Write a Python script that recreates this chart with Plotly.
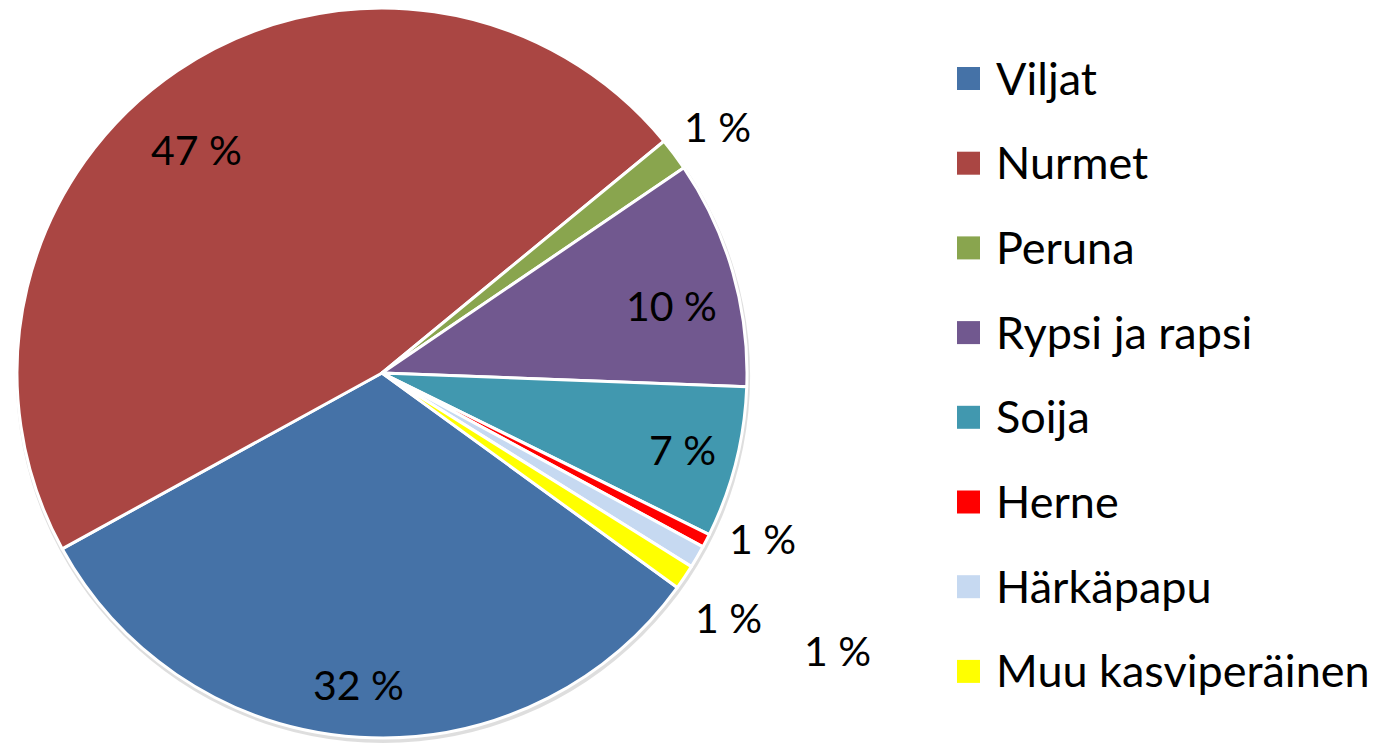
import math
import plotly.graph_objects as go

# ---- data ----
categories = ["Viljat", "Nurmet", "Peruna", "Rypsi ja rapsi", "Soija",
              "Herne", "Härkäpapu", "Muu kasviperäinen"]
shares = [32.0, 47.05, 1.45, 10.1, 6.7, 0.6, 1.0, 1.1]
colors = ["#4572A7", "#AA4643", "#89A54E", "#71588F", "#4198AF",
          "#FF0000", "#C6D9F1", "#FFFF00"]

# ---- label placement style (radius factor, angle nudge in degrees) ----
label_radius = [0.857, 0.796, 1.139, 0.814, 0.848, 1.136, 1.161, 1.460]
label_nudge = [0.8, -5.5, 0.5, 2.8, 0.0, -3.8, 5.0, -2.7]

W, H = 1381, 745
CX, CY, R = 382, 373, 365
ROT = 126.0
FONT = "Lato"
LABEL_SIZE = 41
LEGEND_SIZE = 45


def px(x):
    return x / W


def py(y):
    return (H - y) / H


fig = go.Figure()

# soft shadow
fig.add_trace(go.Pie(
    values=[1], labels=["shadow"], marker=dict(colors=["rgba(0,0,0,0.13)"], line=dict(width=0)),
    textinfo="none", hoverinfo="skip", showlegend=False, sort=False,
    domain=dict(x=[px(CX - R - 2), px(CX + R + 4)], y=[py(CY + R + 5), py(CY - R + 1)]),
))

fig.add_trace(go.Pie(
    labels=categories, values=shares, sort=False, direction="clockwise",
    rotation=ROT, textinfo="none", showlegend=False,
    marker=dict(colors=colors, line=dict(color="white", width=3)),
    domain=dict(x=[px(CX - R), px(CX + R)], y=[py(CY + R), py(CY - R)]),
))

total = sum(shares)
annotations = []
shapes = []
start = ROT
for i, (cat, v) in enumerate(zip(categories, shares)):
    span = v / total * 360.0
    mid = start + span / 2 + label_nudge[i]
    start += span
    th = math.radians(mid)
    rr = R * label_radius[i]
    x = CX + rr * math.sin(th)
    y = CY - rr * math.cos(th)
    pct = round(v / total * 100)
    annotations.append(dict(
        x=px(x), y=py(y), xref="paper", yref="paper", text=f"{pct} %",
        showarrow=False, xanchor="center", yanchor="middle",
        font=dict(family=FONT, size=LABEL_SIZE, color="black"),
    ))

# legend (manual, to match spacing)
LEG_X, LEG_Y0, LEG_STEP, SQ = 957, 78.5, 84.7, 23
for i, cat in enumerate(categories):
    yc = LEG_Y0 + i * LEG_STEP
    shapes.append(dict(
        type="rect", xref="paper", yref="paper",
        x0=px(LEG_X), x1=px(LEG_X + SQ), y0=py(yc + SQ / 2), y1=py(yc - SQ / 2),
        fillcolor=colors[i], line=dict(width=0),
    ))
    annotations.append(dict(
        x=px(LEG_X + 37), y=py(yc - 1), xref="paper", yref="paper", text=cat,
        showarrow=False, xanchor="left", yanchor="middle",
        font=dict(family=FONT, size=LEGEND_SIZE, color="black"),
    ))

fig.update_layout(
    width=W, height=H, margin=dict(l=0, r=0, t=0, b=0),
    paper_bgcolor="white", plot_bgcolor="white",
    annotations=annotations, shapes=shapes, showlegend=False,
)

fig.write_html(
    "out.html",
    config={"displayModeBar": False},
    post_script="document.body.style.margin='0';document.body.style.overflow='hidden';",
)
